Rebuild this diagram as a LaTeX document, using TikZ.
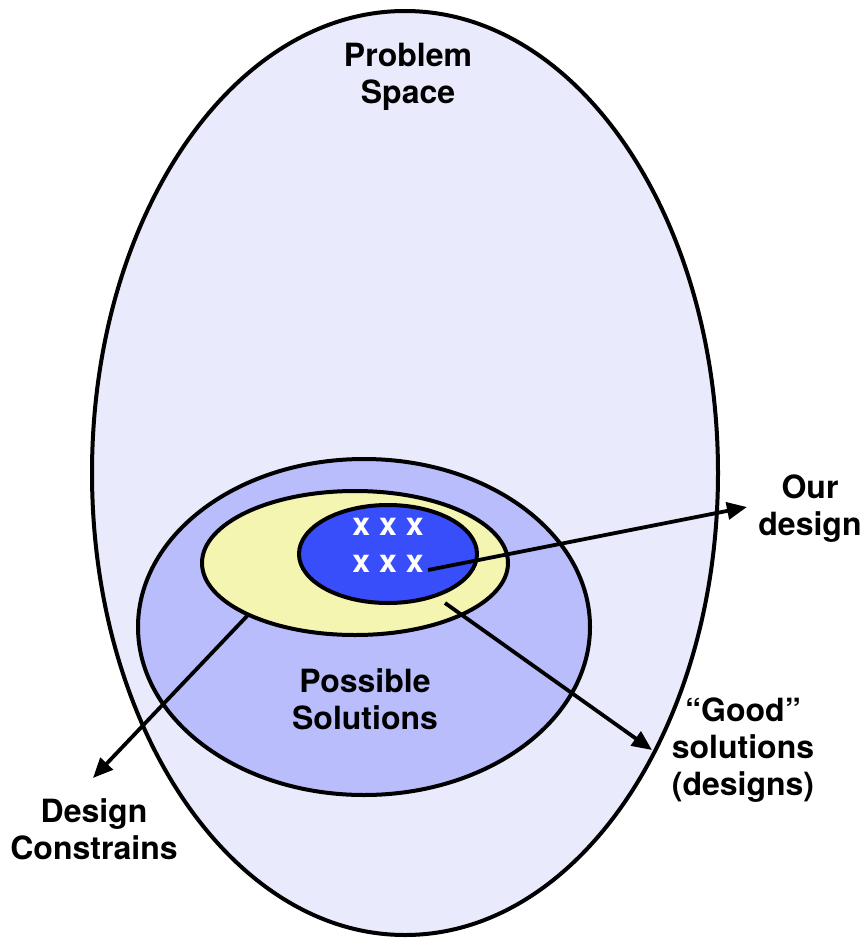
\documentclass[tikz,border=0pt]{standalone}
\usepackage{fontspec}
\setmainfont{TeX Gyre Heros}
\usetikzlibrary{shapes.geometric,arrows.meta}
\definecolor{spacefill}{RGB}{234,234,253}
\definecolor{possiblefill}{RGB}{185,189,251}
\definecolor{goodfill}{RGB}{245,245,178}
\definecolor{oursfill}{RGB}{57,78,251}
\tikzset{
  region/.style={ellipse, draw=black, line width=4pt, inner sep=0pt, outer sep=0pt},
  label/.style={align=center, font=\fontsize{32}{37}\selectfont\bfseries, inner sep=0pt},
  pointer/.style={line width=3.8pt, -{Triangle[length=20pt,width=17pt]}}
}
\begin{document}
\begin{tikzpicture}[x=1pt,y=-1pt]
  \useasboundingbox (0,0) rectangle (863,939);
  % nested regions
  \node[region, fill=spacefill, minimum width=626pt, minimum height=924pt] (space) at (405,473) {};
  \node[region, fill=possiblefill, minimum width=452pt, minimum height=336pt] (possible) at (364,627) {};
  \node[region, fill=goodfill, minimum width=306pt, minimum height=144pt] (good) at (355,563) {};
  \node[region, fill=oursfill, minimum width=178pt, minimum height=98pt] (ours) at (388,554) {};
  % texts
  \node[label] (spacetext) at (408,77) {Problem\\Space};
  \node[label] (possibletext) at (365,699) {Possible\\Solutions};
  \node[label, text=white] (xs) at (388,545) {x x x\\x x x};
  \node[label] (ourtext) at (810,509) {Our\\design};
  \node[label] (goodtext) at (743,750) {``Good''\\solutions\\(designs)};
  \node[label] (constraintext) at (94,829) {Design\\Constrains};
  % pointer ends
  \coordinate (oursstart) at (428,570);
  \coordinate (oursend) at (747,507);
  \coordinate (goodstart) at (445,603);
  \coordinate (goodend) at (652,750);
  \coordinate (constrstart) at (248,615);
  \coordinate (constrend) at (93,778);
  \draw[pointer] (oursstart) -- (oursend);
  \draw[pointer] (goodstart) -- (goodend);
  \draw[pointer] (constrstart) -- (constrend);
\end{tikzpicture}
\end{document}
